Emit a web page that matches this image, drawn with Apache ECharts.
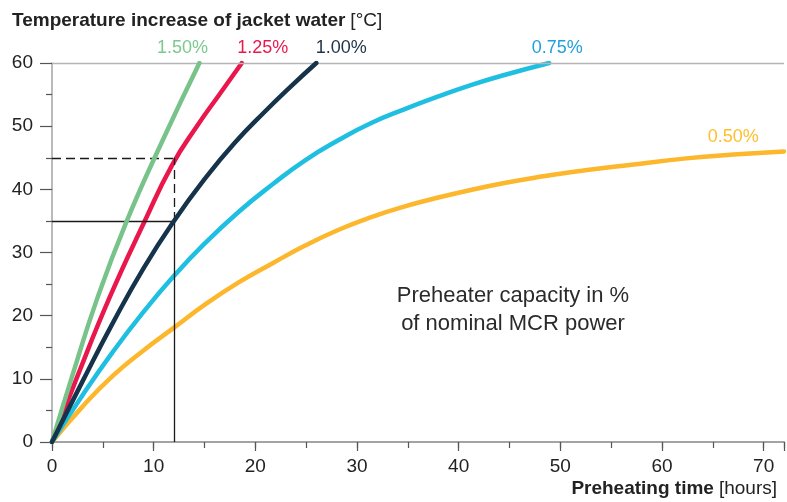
<!DOCTYPE html>
<html><head><meta charset="utf-8">
<script src="https://cdn.jsdelivr.net/npm/echarts@6/dist/echarts.min.js"></script>
<style>html,body{margin:0;padding:0;background:#fff}#c{width:787px;height:502px}</style>
</head><body><div id="c"></div>
<script>
// ---- data (hours, °C) ----
const curve150 = [[0,0],[2,10.5],[4.4,22.5],[7.33,34.9],[10.9,47.8],[14.5,60]];
const curve125 = [[0,0],[2.4,10],[5.7,23],[9.1,34.9],[11.8,43.8],[14.3,50.1],[16.5,55.1],[18.67,60]];
const curve100 = [[0,0],[3,9.6],[6,18.9],[9,27.5],[12,35],[15,41.6],[18,47.4],[21,52.4],[23.5,56.3],[26,60]];
const curve075 = [[0,0],[3,7.4],[6,14.3],[9,20.6],[12,26.3],[15,31.4],[18.4,36.5],[21.7,40.8],[24.9,44.6],[28.2,47.8],[31.4,50.5],[34.7,52.7],[38,54.7],[41.2,56.5],[44.5,58.1],[48.9,60]];
const curve050 = [[0,0],[3,5.6],[6,10.5],[9,14.5],[12,18.1],[15,21.7],[18.4,25.3],[21.7,28.3],[24.9,31.1],[28.2,33.6],[31.4,35.6],[34.7,37.3],[38,38.7],[41.2,39.9],[44.5,41],[47.7,41.9],[51,42.7],[57,43.9],[62.4,44.9],[67,45.5],[72,46]];
const curveNames = ['1.50%','1.25%','1.00%','0.75%','0.50%'];
const refHours = 12;
const refTempSolid = 35;
const refTempDashed = 45;
const xMax = 72, yMax = 60;

const FONT = '"Liberation Sans", Arial, Helvetica, sans-serif';
const chart = echarts.init(document.getElementById('c'), null, {renderer:'canvas'});

function mk(name, data, color, labelColor, labelIdx, offset, z) {
  return {
    name, type:'line', smooth:0.5, z,
    showSymbol:true, symbol:'circle', symbolSize:0,
    lineStyle:{color, width:4.5, cap:'round'}, itemStyle:{color},
    emphasis:{disabled:true}, silent:true,
    data: data.map((p,i)=> i===labelIdx ? {value:p, label:{show:true, formatter:name, position:'top', distance:5, offset, color:labelColor, fontSize:18, fontFamily:FONT}} : {value:p, label:{show:false}})
  };
}

const richStyle = {
  b:{fontFamily:FONT, fontWeight:'bold', fontSize:19, color:'#222'},
  r:{fontFamily:FONT, fontWeight:'normal', fontSize:19, color:'#222'}
};

const refSeries = {
  type:'line', data:[], z:1, silent:true,
  markLine:{
    silent:true, symbol:['none','none'], label:{show:false}, animation:false,
    data:[
      [{coord:[0,refTempSolid], lineStyle:{color:'#1a1a1a', width:1.3, type:'solid'}},{coord:[refHours,refTempSolid]}],
      [{coord:[refHours,0], lineStyle:{color:'#1a1a1a', width:1.3, type:'solid'}},{coord:[refHours,refTempSolid]}],
      [{coord:[0,refTempDashed], lineStyle:{color:'#1a1a1a', width:1.3, type:[9,5]}},{coord:[refHours,refTempDashed]}],
      [{coord:[refHours,refTempSolid], lineStyle:{color:'#1a1a1a', width:1.3, type:[9,5]}},{coord:[refHours,refTempDashed]}],
      [{coord:[0,yMax], lineStyle:{color:'#b5b5b5', width:1.3, type:'solid'}},{coord:[xMax,yMax]}]
    ]
  }
};

const axisLabelStyle = {fontSize:19, color:'#222', fontFamily:FONT};
const tickStyle = {color:'#555', width:1.2};

const option = {
  animation:false,
  grid:{left:52, right:0, top:63, bottom:60},
  title:[
    {text:'{b|Temperature increase of jacket water} {r|[°C]}', left:12, top:11, padding:0, textStyle:{fontWeight:'normal', rich:richStyle}},
    {text:'{b|Preheating time} {r|[hours]}', right:10, top:479, padding:0, textStyle:{fontWeight:'normal', rich:richStyle}}
  ],
  graphic:[{
    type:'text', x:513, y:310, silent:true,
    style:{text:'Preheater capacity in %\nof nominal MCR power', font:'22px '+FONT, fontSize:22, fontFamily:FONT, fill:'#2a2a2a', align:'center', verticalAlign:'middle', textAlign:'center', textVerticalAlign:'middle', lineHeight:28.5}
  }],
  xAxis:[
    {type:'value', min:0, max:xMax, interval:10,
     axisLine:{show:true, lineStyle:{color:'#a3a3a3', width:2}},
     axisTick:{show:true, length:9, lineStyle:tickStyle},
     axisLabel:Object.assign({margin:15, formatter:v=> v%10===0 ? String(v) : ''}, axisLabelStyle),
     splitLine:{show:false}},
    {type:'value', min:0, max:xMax, interval:5, position:'bottom', offset:0,
     axisLine:{show:false}, axisTick:{show:true, length:6, lineStyle:tickStyle},
     axisLabel:{show:false}, splitLine:{show:false}}
  ],
  yAxis:{type:'value', min:0, max:yMax, interval:10,
    axisLine:{show:true, lineStyle:{color:'#a3a3a3', width:1.5}},
    axisTick:{show:true, length:12, lineStyle:tickStyle},
    minorTick:{show:true, splitNumber:2, length:6, lineStyle:tickStyle},
    axisLabel:Object.assign({margin:19}, axisLabelStyle),
    splitLine:{show:false}},
  series:[
    refSeries,
    mk(curveNames[4], curve050, '#fcb72c', '#fcc02e', 19, [0,-4], 2),
    mk(curveNames[3], curve075, '#1fbfe2', '#1f9fdc', curve075.length-1, [8,-1], 3),
    mk(curveNames[1], curve125, '#e9174c', '#e71a4e', curve125.length-1, [21,-1], 4),
    mk(curveNames[0], curve150, '#78c38a', '#7cc88e', curve150.length-1, [-17,-1], 5),
    mk(curveNames[2], curve100, '#15334a', '#1d3348', curve100.length-1, [25,-1], 6)
  ]
};
chart.setOption(option);
</script></body></html>
